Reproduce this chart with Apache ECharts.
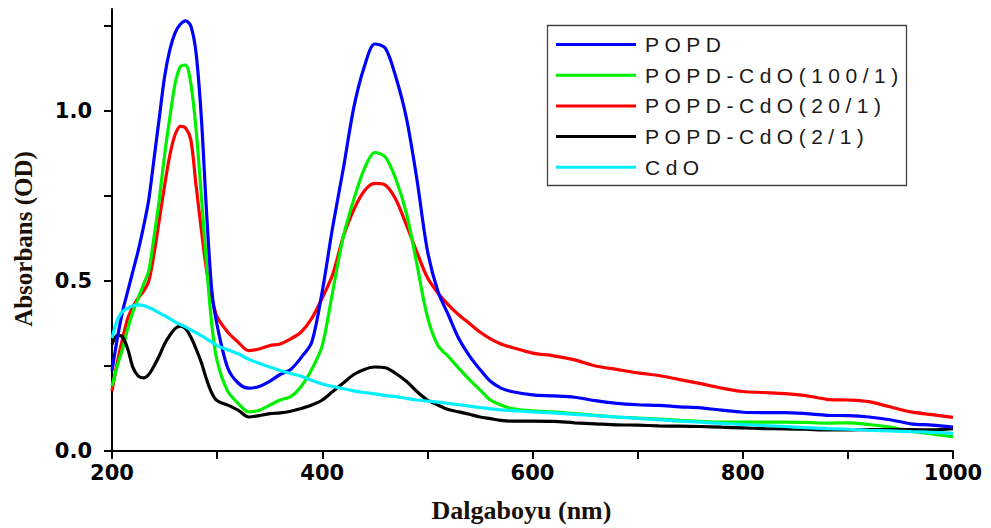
<!DOCTYPE html>
<html>
<head>
<meta charset="utf-8">
<script src="https://cdn.jsdelivr.net/npm/echarts@6/dist/echarts.min.js"></script>
<style>
  html, body { margin: 0; padding: 0; background: #fff; }
  #chart { width: 991px; height: 528px; }
</style>
</head>
<body>
<div id="chart"></div>
<script>
// Wavelength grid (nm)
const wavelength = [200,205,210,215,220,225,230,235,240,245,250,255,260,265,270,275,280,285,290,295,300,310,320,330,340,350,360,370,380,390,400,410,420,430,440,450,460,470,480,490,500,510,520,530,540,550,560,570,580,600,620,640,660,680,700,720,740,760,780,800,820,840,860,880,900,920,940,960,980,1000];

// Absorbance values (OD)
const popd = [0.236,0.33,0.41,0.47,0.53,0.59,0.66,0.74,0.86,0.98,1.10,1.18,1.23,1.255,1.265,1.25,1.17,0.98,0.70,0.47,0.37,0.245,0.20,0.185,0.19,0.205,0.225,0.24,0.275,0.32,0.47,0.66,0.83,1.01,1.13,1.197,1.185,1.10,0.98,0.80,0.59,0.47,0.40,0.33,0.28,0.24,0.205,0.185,0.175,0.165,0.162,0.158,0.148,0.14,0.136,0.134,0.13,0.127,0.12,0.114,0.113,0.113,0.11,0.105,0.104,0.10,0.092,0.08,0.076,0.07];
const popdCdo100 = [0.19,0.25,0.30,0.36,0.41,0.45,0.49,0.53,0.63,0.74,0.87,0.98,1.08,1.13,1.135,1.08,0.945,0.75,0.545,0.37,0.265,0.176,0.14,0.115,0.12,0.135,0.15,0.16,0.19,0.24,0.31,0.47,0.63,0.74,0.83,0.878,0.865,0.80,0.70,0.55,0.395,0.31,0.278,0.243,0.21,0.18,0.15,0.135,0.125,0.118,0.115,0.11,0.105,0.10,0.097,0.094,0.09,0.087,0.085,0.085,0.085,0.085,0.084,0.082,0.083,0.078,0.07,0.058,0.05,0.042];
const popdCdo20 = [0.176,0.26,0.33,0.39,0.425,0.45,0.47,0.50,0.58,0.68,0.78,0.87,0.93,0.955,0.95,0.915,0.78,0.65,0.53,0.45,0.395,0.35,0.32,0.295,0.30,0.31,0.315,0.33,0.35,0.39,0.45,0.52,0.63,0.71,0.765,0.787,0.782,0.74,0.665,0.585,0.51,0.465,0.43,0.40,0.375,0.35,0.33,0.315,0.305,0.288,0.28,0.268,0.25,0.24,0.23,0.222,0.21,0.198,0.185,0.175,0.172,0.169,0.163,0.152,0.15,0.145,0.13,0.115,0.107,0.099];
const popdCdo2 = [0.313,0.34,0.335,0.30,0.245,0.22,0.215,0.225,0.25,0.28,0.315,0.34,0.36,0.367,0.36,0.335,0.30,0.26,0.21,0.17,0.148,0.135,0.12,0.10,0.104,0.11,0.112,0.117,0.125,0.135,0.15,0.175,0.20,0.225,0.24,0.247,0.245,0.228,0.205,0.175,0.15,0.135,0.122,0.115,0.108,0.10,0.095,0.09,0.088,0.088,0.087,0.083,0.08,0.077,0.076,0.074,0.073,0.072,0.07,0.068,0.066,0.065,0.064,0.062,0.062,0.063,0.063,0.063,0.062,0.066];
const cdo = [0.332,0.385,0.41,0.42,0.427,0.43,0.428,0.422,0.415,0.406,0.398,0.389,0.38,0.372,0.365,0.356,0.348,0.339,0.33,0.32,0.31,0.298,0.286,0.27,0.258,0.247,0.237,0.228,0.22,0.208,0.197,0.19,0.183,0.177,0.172,0.168,0.163,0.16,0.155,0.15,0.147,0.144,0.14,0.136,0.132,0.128,0.124,0.121,0.119,0.115,0.112,0.108,0.104,0.10,0.096,0.092,0.088,0.085,0.081,0.078,0.075,0.072,0.069,0.066,0.064,0.061,0.059,0.057,0.055,0.052];

const seriesNames = ['POPD', 'POPD-CdO(100/1)', 'POPD-CdO(20/1)', 'POPD-CdO(2/1)', 'CdO'];
const xLabelValues = [200, 400, 600, 800, 1000];
const yLabelValues = [0, 0.5, 1.0];
const yTickValues = [0, 0.25, 0.5, 0.75, 1.0, 1.25];

const pair = arr => wavelength.map((w, i) => [w, arr[i]]);
const mk = (name, arr, color) => ({
  name, type: 'line', data: pair(arr), showSymbol: false, smooth: 0.3,
  lineStyle: { color, width: 3.2 }, itemStyle: { color }
});

const chart = echarts.init(document.getElementById('chart'), null, { renderer: 'svg' });
chart.setOption({
  animation: false,
  backgroundColor: '#ffffff',
  grid: { left: 112, right: 38, top: 9, bottom: 74, containLabel: false },
  legend: {
    data: seriesNames,
    orient: 'vertical', left: 556, top: 34, padding: 0,
    itemWidth: 80, itemHeight: 3, itemGap: 9.7, icon: 'rect',
    textStyle: { fontFamily: 'Liberation Sans', fontSize: 21, color: '#1a1a1a', lineHeight: 21, padding: [0, 0, 0, 4] }
  },
  graphic: [{
    type: 'rect', left: 545, top: 23, silent: true,
    shape: { width: 359, height: 160 },
    style: { fill: 'none', stroke: '#444', lineWidth: 1.3 }
  }],
  xAxis: {
    type: 'value', min: 200, max: 1000, interval: 100,
    name: 'Dalgaboyu (nm)', nameLocation: 'middle', nameGap: 46,
    nameTextStyle: { fontFamily: 'Liberation Serif', fontWeight: 'bold', fontSize: 26, color: '#1a1008', padding: [0, 22, 0, 0] },
    axisLine: { lineStyle: { color: '#000', width: 2 } },
    axisTick: { length: 8, lineStyle: { color: '#000', width: 2 } },
    axisLabel: { customValues: xLabelValues, formatter: v => String(v), fontFamily: 'DejaVu Sans', fontWeight: 'bold', fontSize: 21, color: '#000', margin: 11 },
    splitLine: { show: false }
  },
  yAxis: {
    type: 'value', min: 0, max: 1.3, interval: 0.25,
    name: 'Absorbans (OD)', nameLocation: 'middle', nameGap: 76, nameRotate: 90,
    nameTextStyle: { fontFamily: 'Liberation Serif', fontWeight: 'bold', fontSize: 25, color: '#1a1008', padding: [0, 18, 0, 0] },
    axisLine: { show: true, lineStyle: { color: '#000', width: 2 } },
    axisTick: { show: true, length: 8, customValues: yTickValues, lineStyle: { color: '#000', width: 2 } },
    axisLabel: { customValues: yLabelValues, formatter: v => v.toFixed(1), fontFamily: 'DejaVu Sans', fontWeight: 'bold', fontSize: 21, color: '#000', margin: 20 },
    splitLine: { show: false }
  },
  series: [
    mk('POPD-CdO(20/1)', popdCdo20, '#ff0000'),
    mk('POPD-CdO(100/1)', popdCdo100, '#00f000'),
    mk('POPD-CdO(2/1)', popdCdo2, '#000000'),
    mk('POPD', popd, '#0000ff'),
    mk('CdO', cdo, '#00f0ff')
  ]
});

function spaceLegend() {
  const texts = document.querySelectorAll('#chart svg text');
  texts.forEach(t => {
    if (seriesNames.indexOf(t.textContent) >= 0) {
      t.style.letterSpacing = '5.5px';
    }
  });
}
chart.on('finished', spaceLegend);
setTimeout(spaceLegend, 50);
</script>
</body>
</html>
